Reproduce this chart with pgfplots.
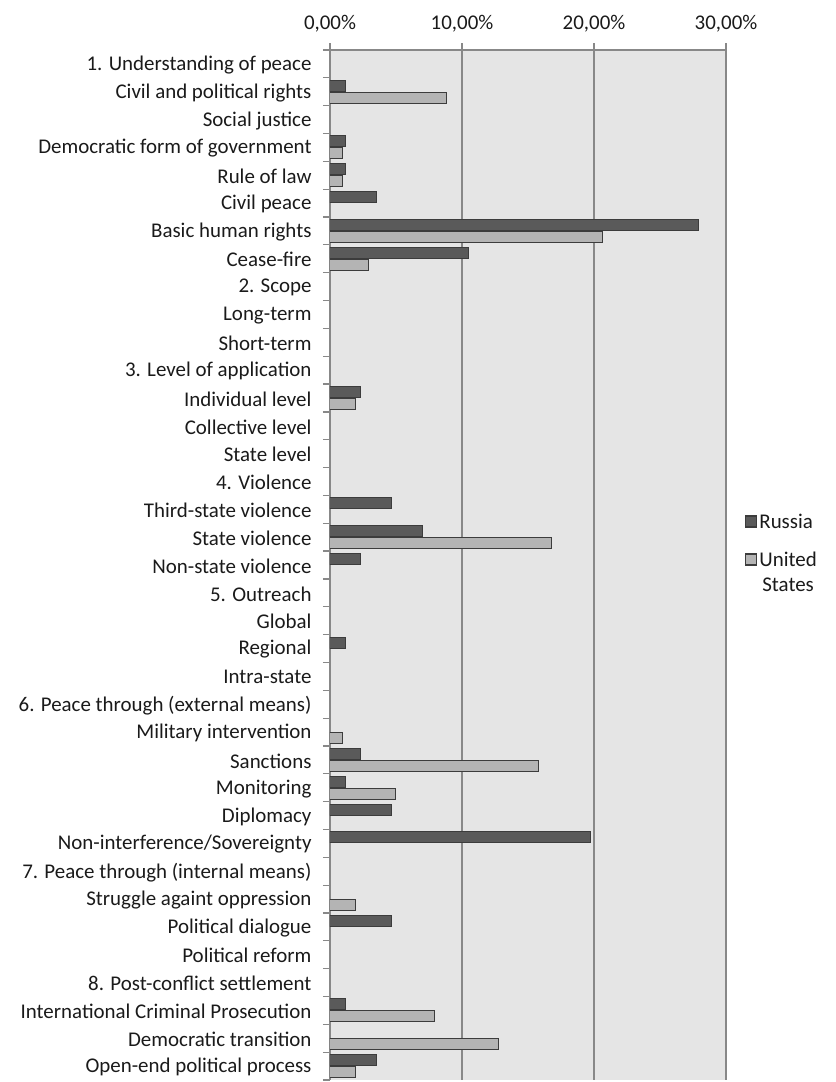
\documentclass[border=0pt]{standalone}
\usepackage{pgfplots}
\pgfplotsset{compat=1.18}
\usepackage{fontspec}
\setmainfont{Carlito}

\definecolor{rusFill}{HTML}{5A5A5A}
\definecolor{usFill}{HTML}{B4B4B4}
\definecolor{barEdge}{HTML}{3C3C3C}
\definecolor{plotBg}{HTML}{E5E5E5}
\definecolor{gridGray}{HTML}{888888}
\definecolor{txt}{HTML}{1A1A1A}

\newcommand{\lbl}{\fontsize{21}{26}\selectfont}

\pgfplotsset{
  rusleg/.style={legend image code/.code={\draw[##1, line width=1.2bp] (0bp,-5.5bp) rectangle (11bp,5.5bp);}},
  usleg/.style={legend image code/.code={\draw[##1, line width=1.2bp] (0bp,7.5bp) rectangle (11bp,18.5bp);}},
}

\begin{document}
\begin{tikzpicture}
\begin{axis}[
    scale only axis,
    width=396bp, height=1030bp,
    xbar, bar width=11bp,
    xmin=0, xmax=30,
    ymin=-0.5, ymax=36.5,
    y dir=reverse,
    axis x line*=top,
    axis y line*=left,
    axis line style={draw=gridGray, line width=1.4bp},
    axis background/.style={fill=plotBg},
    xtick={0,10,20,30},
    xticklabels={{0,00\%},{10,00\%},{20,00\%},{30,00\%}},
    xticklabel style={yshift=7bp},
    xmajorgrids,
    major grid style={draw=gridGray, line width=1.4bp},
    tick align=outside,
    major tick length=7bp,
    tick style={draw=gridGray, line width=1.2bp},
    ytick={-0.5,0.5,...,36.5},
    y tick label as interval,
    yticklabel style={xshift=-8bp, yshift=-1bp},
    yticklabels={
      {1. Understanding of peace},
      {Civil and political rights},
      {Social justice},
      {Democratic form of government},
      {Rule of law},
      {Civil peace},
      {Basic human rights},
      {Cease-fire},
      {2. Scope},
      {Long-term},
      {Short-term},
      {3. Level of application},
      {Individual level},
      {Collective level},
      {State level},
      {4. Violence},
      {Third-state violence},
      {State violence},
      {Non-state violence},
      {5. Outreach},
      {Global},
      {Regional},
      {Intra-state},
      {6. Peace through (external means)},
      {Military intervention},
      {Sanctions},
      {Monitoring},
      {Diplomacy},
      {Non-interference/Sovereignty},
      {7. Peace through (internal means)},
      {Struggle againt oppression},
      {Political dialogue},
      {Political reform},
      {8. Post-conflict settlement},
      {International Criminal Prosecution},
      {Democratic transition},
      {Open-end political process}},
    tick label style={font=\lbl, text=txt},
    /pgf/number format/assume math mode=true,
    legend style={draw=none, fill=none, font=\lbl, text=txt,
      at={(1.048,0.552)}, anchor=north west, inner sep=0pt,
      row sep=18bp, cells={align=center}},
    legend cell align=left,
]
\addplot[fill=rusFill, draw=barEdge, line width=1bp, bar shift=6bp, rusleg]
  coordinates {
    (1.16,1) (1.16,3) (1.16,4) (3.49,5) (27.91,6) (10.47,7)
    (2.33,12) (4.65,16) (6.98,17) (2.33,18) (1.16,21)
    (2.33,25) (1.16,26) (4.65,27) (19.77,28) (4.65,31)
    (1.16,34) (3.49,36)
};
\addlegendentry{Russia}
\addplot[fill=usFill, draw=barEdge, line width=1bp, bar shift=-6bp, usleg]
  coordinates {
    (8.86,1) (0.96,3) (0.96,4) (20.66,6) (2.93,7)
    (1.92,12) (16.8,17) (0.96,24) (15.76,25) (4.93,26)
    (1.92,30) (7.88,34) (12.78,35) (1.92,36)
};
\addlegendentry{United\\States}
\end{axis}
\pgfresetboundingbox
\path (-330bp,-2bp) rectangle (506bp,1080bp);
\end{tikzpicture}
\end{document}
